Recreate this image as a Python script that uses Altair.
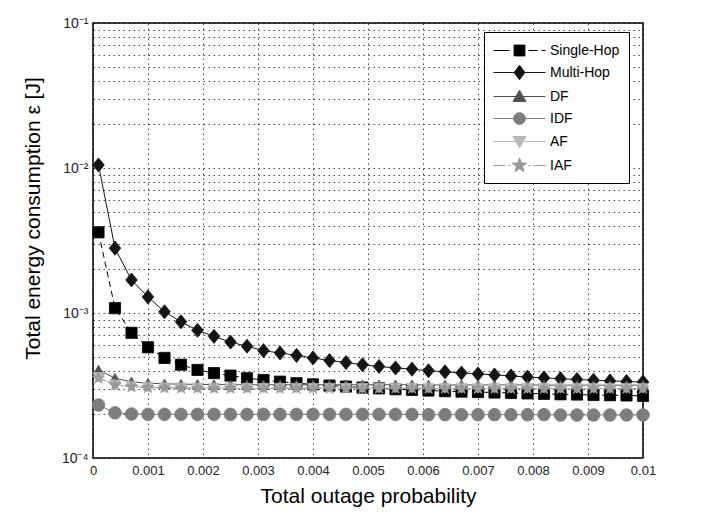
import math
import altair as alt
import pandas as pd

# ---------------- data ----------------
x_vals = [0.0001, 0.0004, 0.0007, 0.0010, 0.0013, 0.0016, 0.0019, 0.0022, 0.0025, 0.0028,
          0.0031, 0.0034, 0.0037, 0.0040, 0.0043, 0.0046, 0.0049, 0.0052, 0.0055, 0.0058,
          0.0061, 0.0064, 0.0067, 0.0070, 0.0073, 0.0076, 0.0079, 0.0082, 0.0085, 0.0088,
          0.0091, 0.0094, 0.0097, 0.0100]

series_names = ["Single-Hop", "Multi-Hop", "DF", "IDF", "AF", "IAF"]

single_hop = [0.0036, 0.00108, 0.00073, 0.00058, 0.00049, 0.00044, 0.000405, 0.000385, 0.00037, 0.000355,
              0.000345, 0.000336, 0.000328, 0.000322, 0.000316, 0.000311, 0.000306, 0.000302, 0.000298, 0.000295,
              0.000292, 0.000289, 0.000287, 0.000285, 0.000283, 0.000281, 0.000279, 0.000277, 0.000275, 0.000274,
              0.000272, 0.000271, 0.00027, 0.000268]
multi_hop = [0.0105, 0.0028, 0.00169, 0.00129, 0.00102, 0.00087, 0.00076, 0.00069, 0.00063, 0.00059,
             0.00055, 0.00053, 0.00051, 0.00049, 0.00047, 0.000455, 0.00044, 0.000428, 0.000418, 0.00041,
             0.0004, 0.000393, 0.000386, 0.00038, 0.000374, 0.000368, 0.000362, 0.000357, 0.000352, 0.000348,
             0.000344, 0.00034, 0.000337, 0.000334]
df_vals = [0.000405, 0.000355, 0.000335, 0.000328, 0.000325, 0.000323, 0.000322, 0.000321, 0.00032, 0.00032,
           0.00032, 0.00032, 0.00032, 0.00032, 0.00032, 0.00032, 0.00032, 0.00032, 0.00032, 0.00032,
           0.000319, 0.000319, 0.000319, 0.000319, 0.000319, 0.000319, 0.000319, 0.000318, 0.000318, 0.000318,
           0.000318, 0.000318, 0.000318, 0.000318]
idf_vals = [0.000232, 0.000205, 0.000201, 0.0002, 0.0002, 0.0002, 0.0002, 0.0002, 0.0002, 0.0002,
            0.0002, 0.0002, 0.0002, 0.0002, 0.0002, 0.0002, 0.0002, 0.0002, 0.0002, 0.0002,
            0.000199, 0.000199, 0.000199, 0.000199, 0.000199, 0.000199, 0.000199, 0.000199, 0.000198, 0.000198,
            0.000198, 0.000198, 0.000198, 0.000198]
af_vals = [0.00036, 0.00032, 0.000312, 0.000308, 0.000306, 0.000305, 0.000304, 0.000304, 0.000303, 0.000303,
           0.000303, 0.000303, 0.000303, 0.000303, 0.000303, 0.000303, 0.000303, 0.000303, 0.000303, 0.000303,
           0.000302, 0.000302, 0.000302, 0.000302, 0.000302, 0.000302, 0.000302, 0.000302, 0.000302, 0.000302,
           0.000302, 0.000302, 0.000302, 0.000302]
iaf_vals = [0.000355, 0.000318, 0.00031, 0.000306, 0.000305, 0.000304, 0.000303, 0.000303, 0.000303, 0.000303,
            0.000303, 0.000303, 0.000303, 0.000303, 0.000303, 0.000303, 0.000303, 0.000303, 0.000303, 0.000303,
            0.000302, 0.000302, 0.000302, 0.000302, 0.000302, 0.000302, 0.000302, 0.000302, 0.000302, 0.000302,
            0.000302, 0.000302, 0.000302, 0.000302]

x_ticks = [0, 0.001, 0.002, 0.003, 0.004, 0.005, 0.006, 0.007, 0.008, 0.009, 0.01]
y_ticks = [k * 10.0 ** e for e in (-4, -3, -2) for k in range(1, 10)] + [0.1]

# ---------------- styles ----------------
colors = ["#000000", "#151515", "#505050", "#7d7d7d", "#b8b8b8", "#9a9a9a"]
dashes = [[6, 4], None, None, None, None, [7, 3, 1.5, 3]]


def star_path(ro, ri, cx=0.0, cy=0.0):
    pts = []
    for i in range(10):
        r = ro if i % 2 == 0 else ri
        a = -math.pi / 2 + i * math.pi / 5
        pts.append("%.3f,%.3f" % (cx + r * math.cos(a), cy + r * math.sin(a)))
    return "M" + "L".join(pts) + "Z"


diamond_pt = "M0,-1.15L0.95,0L0,1.15L-0.95,0Z"
marker_shapes = ["square", diamond_pt, "triangle-up", "circle", "triangle-down", star_path(1.1, 0.45)]
marker_sizes = [125, 150, 120, 160, 120, 130]

# legend symbols: line + marker drawn as one path.
# symbol size 324 -> 1 path unit = 9 px; the symbol spans 52 px to the right of its start.
U = 9.0
SYM = 18.0  # sqrt(size)


def px(p):
    # horizontal pixel offset from entry start -> path units (symbol centre is at SYM/2)
    return (p - SYM / 2) / U


def seg(a, b):
    return "M%.3f,0H%.3f" % (px(a), px(b))


mc = px(26)  # marker centre


def sq(h):
    return "M%.3f,%.3fH%.3fV%.3fH%.3fZ" % (mc - h, -h, mc + h, h, mc - h)


legend_markers = [
    sq(0.6),
    "M%.3f,-0.8L%.3f,0L%.3f,0.8L%.3f,0Z" % (mc, mc + 0.6, mc, mc - 0.6),
    "M%.3f,-0.7L%.3f,0.55L%.3f,0.55Z" % (mc, mc + 0.72, mc - 0.72),
    "M%.3f,0A0.65,0.65,0,1,1,%.3f,0A0.65,0.65,0,1,1,%.3f,0Z" % (mc + 0.65, mc - 0.65, mc + 0.65),
    "M%.3f,0.7L%.3f,-0.55L%.3f,-0.55Z" % (mc, mc + 0.72, mc - 0.72),
    star_path(0.85, 0.35, mc, 0.0),
]
legend_lines = [
    seg(0, 16) + seg(35, 44) + seg(48, 52),
    seg(0, 52),
    seg(0, 52),
    seg(0, 52),
    seg(0, 52),
    seg(0, 12) + seg(15, 17) + seg(35, 37) + seg(40, 52),
]
legend_paths = [l + m for l, m in zip(legend_lines, legend_markers)]

FONT = "Liberation Sans"

X = alt.X("x:Q",
          scale=alt.Scale(domain=[0, 0.01], nice=False, zero=False),
          axis=alt.Axis(values=x_ticks, format="~g", title="Total outage probability",
                        titleFontSize=21, titleFontWeight="normal", titleColor="#000",
                        titleFont=FONT, titleY=38, titleBaseline="middle",
                        labelFont=FONT, labelFontSize=13, labelColor="#222",
                        labelPadding=6, ticks=False, domain=False, grid=True,
                        gridDash=[1.5, 3.5], gridColor="#000", gridOpacity=0.7,
                        labelFlush=False))
Y = alt.Y("y:Q",
          scale=alt.Scale(type="log", domain=[1e-4, 1e-1], nice=False),
          axis=alt.Axis(values=y_ticks,
                        labelExpr=("abs(log(datum.value)/LN10 - round(log(datum.value)/LN10)) < 0.001 ? "
                                   "(round(log(datum.value)/LN10) == -1 ? '10⁻¹' : "
                                   "round(log(datum.value)/LN10) == -2 ? '10⁻²' : "
                                   "round(log(datum.value)/LN10) == -3 ? '10⁻³' : '10⁻⁴') : ''"),
                        title="Total energy consumption ε [J]",
                        titleFontSize=21, titleFontWeight="normal", titleColor="#000",
                        titleFont=FONT, titleX=-60, titleY=195, titleBaseline="middle",
                        titleAlign="center", titleAngle=270,
                        labelFont=FONT, labelFontSize=14, labelColor="#222",
                        labelPadding=5, ticks=False, domain=False, grid=True,
                        gridDash=[1.5, 3.5], gridColor="#000", gridOpacity=0.7,
                        labelFlush=False))

all_vals = [single_hop, multi_hop, df_vals, idf_vals, af_vals, iaf_vals]
frames = []
layers = []
for name, vals, col, dash, shp, sz in zip(series_names, all_vals, colors, dashes, marker_shapes, marker_sizes):
    d = pd.DataFrame({"x": x_vals, "y": vals, "series": name})
    frames.append(d)
    base = alt.Chart(d)
    line_kw = dict(color=col, strokeWidth=1)
    if dash is not None:
        line_kw["strokeDash"] = dash
    layers.append(base.mark_line(**line_kw).encode(x=X, y=Y))
    layers.append(base.mark_point(filled=True, shape=shp, size=sz, color=col, opacity=1,
                                  stroke=col, strokeWidth=0.8).encode(x=X, y=Y))

all_df = pd.concat(frames, ignore_index=True)

leg = alt.Legend(orient="none", legendX=391, legendY=9, title=None,
                 symbolSize=SYM * SYM, symbolStrokeWidth=1, symbolOpacity=1,
                 labelFont=FONT, labelFontSize=14, labelColor="#000",
                 labelOffset=38, strokeColor="#000", fillColor="#fff",
                 padding=9, rowPadding=5, labelLimit=200)

legend_layer = alt.Chart(all_df).transform_filter("false").mark_point(filled=True, opacity=1).encode(
    x=X, y=Y,
    fill=alt.Fill("series:N", scale=alt.Scale(domain=series_names, range=colors), legend=leg),
    stroke=alt.Stroke("series:N", scale=alt.Scale(domain=series_names, range=colors), legend=leg),
    shape=alt.Shape("series:N", scale=alt.Scale(domain=series_names, range=legend_paths), legend=leg),
)

chart = alt.layer(*layers, legend_layer).properties(
    width=550, height=435,
    autosize=alt.AutoSizeParams(type="none"),
    padding={"left": 93, "top": 23, "right": 71, "bottom": 61},
    background="#ffffff",
).configure_view(stroke="#000", strokeWidth=1.5)

chart.save("out.html", embed_options={"renderer": "svg", "actions": False})
